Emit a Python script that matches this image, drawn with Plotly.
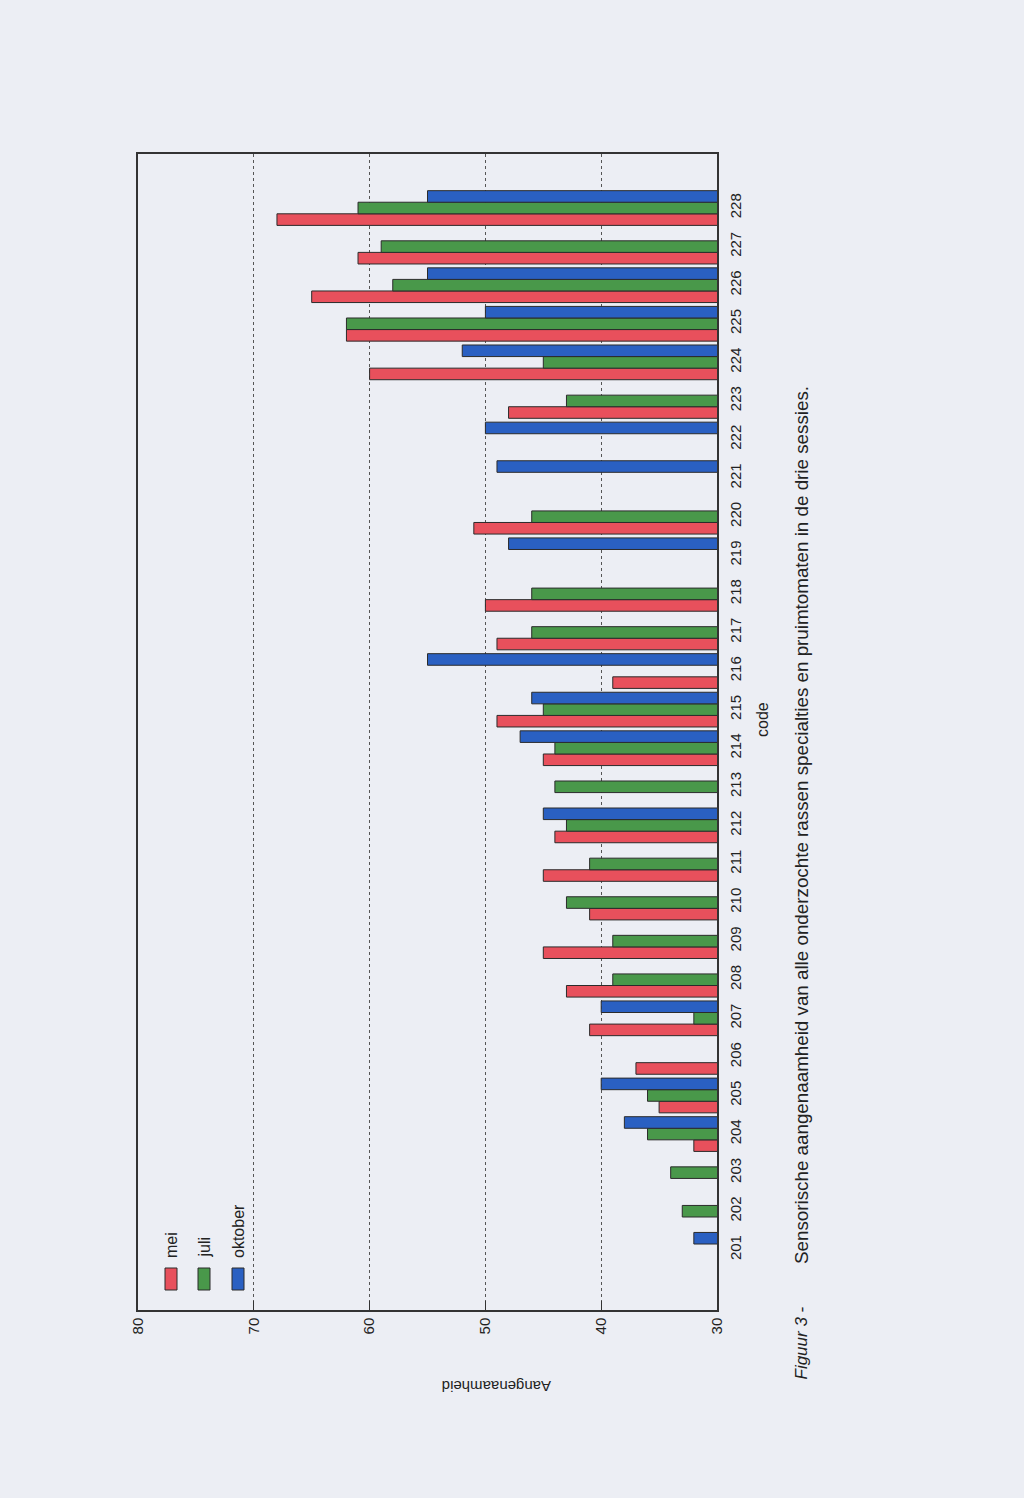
import plotly.graph_objects as go

codes = [str(c) for c in range(201, 229)]
series_names = ["mei", "juli", "oktober"]
series_colors = ["#e8505c", "#49984a", "#2a60c2"]

mei = [None, None, None, 32, 35, 37, 41, 43, 45, 41, 45, 44, None, 45,
       49, 39, 49, 50, None, 51, None, None, 48, 60, 62, 65, 61, 68]
juli = [None, 33, 34, 36, 36, None, 32, 39, 39, 43, 41, 43, 44, 44,
        45, None, 46, 46, None, 46, None, None, 43, 45, 62, 58, 59, 61]
oktober = [32, None, None, 38, 40, None, 40, None, None, None, None, 45, None, 47,
           46, 55, None, None, 48, None, 49, 50, None, 52, 50, 55, None, 55]
series_values = [mei, juli, oktober]

x_ticks = [80, 70, 60, 50, 40, 30]

W, H = 1024, 1498
L, R, T, B = 138, 307, 154, 188
PW, PH = W - L - R, H - T - B
BG = "#eceef4"
FONT = "Liberation Sans, Arial, sans-serif"


def px(x):
    return (x - L) / PW


def py(y):
    return 1 - (y - T) / PH


fig = go.Figure()
for name, vals, col in zip(series_names, series_values, series_colors):
    fig.add_trace(go.Bar(
        y=codes, x=vals, name=name, orientation="h",
        marker=dict(color=col, line=dict(color="#2b2b2b", width=1)),
        showlegend=False,
    ))

annotations = []
shapes = []

# legend (rotated, built manually)
leg_x = [171, 204, 238]
for name, col, lx in zip(series_names, series_colors, leg_x):
    shapes.append(dict(type="rect", xref="paper", yref="paper",
                       x0=px(lx - 6), x1=px(lx + 6), y0=py(1290), y1=py(1268),
                       fillcolor=col, line=dict(color="#2b2b2b", width=1)))
    annotations.append(dict(text=name, xref="paper", yref="paper",
                            x=px(lx), y=py(1260), xanchor="center", yanchor="bottom",
                            textangle=-90, showarrow=False,
                            font=dict(size=16, color="#222", family=FONT)))

annotations += [
    dict(text="Aangenaamheid", xref="paper", yref="paper", x=px(497), y=py(1386),
         xanchor="center", yanchor="middle", textangle=180, showarrow=False,
         font=dict(size=15, color="#222", family=FONT)),
    dict(text="code", xref="paper", yref="paper", x=px(762), y=py(720),
         xanchor="center", yanchor="middle", textangle=-90, showarrow=False,
         font=dict(size=16, color="#222", family=FONT)),
    dict(text="<i>Figuur 3 -</i>", xref="paper", yref="paper", x=px(801), y=py(1382),
         xanchor="center", yanchor="bottom", textangle=-90, showarrow=False,
         font=dict(size=17, color="#222", family=FONT)),
    dict(text="Sensorische aangenaamheid van alle onderzochte rassen specialties en pruimtomaten in de drie sessies.",
         xref="paper", yref="paper", x=px(801), y=py(1266),
         xanchor="center", yanchor="bottom", textangle=-90, showarrow=False,
         font=dict(size=18.8, color="#222", family=FONT)),
]

fig.update_layout(
    width=W, height=H,
    margin=dict(l=L, r=R, t=T, b=B, pad=0),
    paper_bgcolor=BG, plot_bgcolor=BG,
    barmode="group", bargap=0.1, bargroupgap=0.0,
    font=dict(family=FONT, size=15, color="#222"),
    annotations=annotations, shapes=shapes,
)
fig.update_xaxes(
    range=[80, 30], tickvals=x_ticks, ticktext=[str(v) for v in x_ticks],
    tickangle=-90, ticks="inside", ticklen=9, tickcolor="#333",
    showgrid=True, gridcolor="#555", griddash="dot", gridwidth=1,
    showline=True, linecolor="#333", linewidth=1.5, mirror=True,
    zeroline=False, tickfont=dict(size=15, family=FONT, color="#222"),
)
fig.update_yaxes(
    type="category", categoryorder="array", categoryarray=codes,
    range=[-1.56, 28.4], side="right", tickangle=-90, ticks="",
    showgrid=False, showline=True, linecolor="#333", linewidth=1.5, mirror=True,
    tickfont=dict(size=15, family=FONT, color="#222"), ticklabelstandoff=4,
)

fig.write_html("out.html")
